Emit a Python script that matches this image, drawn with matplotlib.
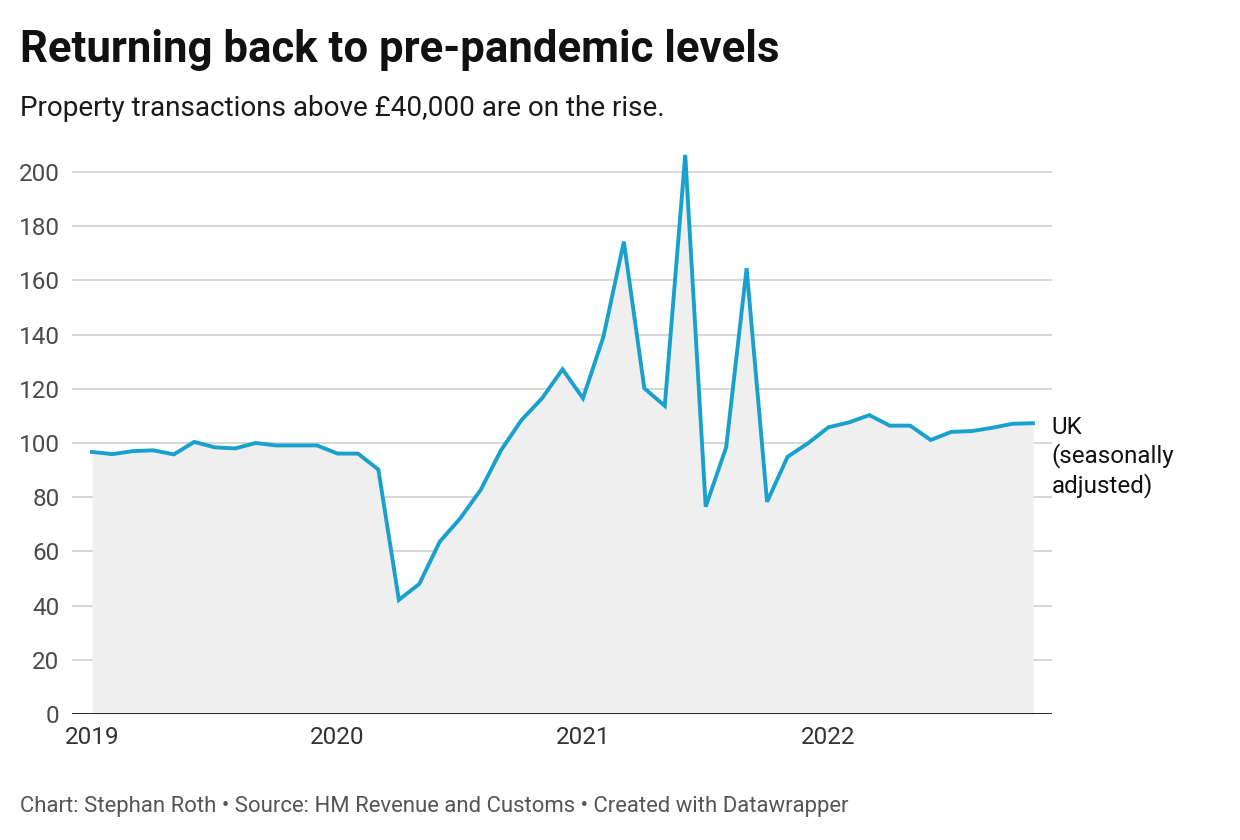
import matplotlib
matplotlib.use("Agg")
import matplotlib.pyplot as plt

plt.rcParams["font.family"] = ["Roboto", "DejaVu Sans"]

# Monthly index, Jan 2019 .. Nov 2022 (seasonally adjusted)
values = [
    96.7, 95.9, 97.0, 97.3, 95.8, 100.4, 98.4, 98.0, 100.0, 99.1, 99.1, 99.1,
    96.1, 96.1, 90.2, 42.1, 48.0, 63.6, 72.2, 82.7, 97.4, 108.5, 116.5, 127.2,
    116.5, 139.2, 174.3, 120.2, 113.7, 206.3, 76.5, 98.4, 164.5, 78.3, 94.9, 99.9,
    105.8, 107.6, 110.3, 106.4, 106.4, 101.1, 104.1, 104.4, 105.6, 107.1, 107.3,
]
months = list(range(len(values)))
year_ticks = [0, 12, 24, 36]
year_labels = ["2019", "2020", "2021", "2022"]
y_ticks = [0, 20, 40, 60, 80, 100, 120, 140, 160, 180, 200]

LINE = "#18a1cd"
FILL = "#efefef"
GRID = "#d4d4d4"
TICK = "#4a4a4a"

W, H = 1240, 840
fig = plt.figure(figsize=(W / 100, H / 100), dpi=100)

# axes box in pixels: x 72..1052, y 0 at 714, 2.71 px per unit
px_unit = 2.71
ymax = 212
left, right, bottom = 72, 1052, 714
top = bottom - ymax * px_unit
ax = fig.add_axes([left / W, (H - bottom) / H, (right - left) / W, (bottom - top) / H])

ax.fill_between(months, values, 0, color=FILL, linewidth=0, zorder=1)
ax.plot(months, values, color=LINE, linewidth=2.8, solid_joinstyle="miter", zorder=3)

ax.set_xlim(-(92 - 72) / 20.45, 46 + (1052 - 1033) / 20.45)
ax.set_ylim(0, ymax)

for yv in y_ticks[1:]:
    ax.axhline(yv, color=GRID, linewidth=1.3, zorder=0.5)
ax.axhline(0, color="#111111", linewidth=2.0, zorder=4)

for s in ax.spines.values():
    s.set_visible(False)

ax.set_yticks(y_ticks)
ax.set_yticklabels([str(v) for v in y_ticks])
ax.set_xticks(year_ticks)
ax.set_xticklabels(year_labels)
ax.tick_params(axis="y", length=0, pad=9, labelsize=17.5, labelcolor=TICK)
ax.tick_params(axis="x", length=0, pad=9, labelsize=17.5, labelcolor="#333333")

# end-of-line label
ax.annotate("UK\n(seasonally\nadjusted)", xy=(months[-1], values[-1]),
            xytext=(13.5, 5), textcoords="offset points",
            ha="left", va="top", fontsize=17.4, color="#111111",
            linespacing=1.22, annotation_clip=False)

fig.text(20 / W, 1 - 62 / H, "Returning back to pre-pandemic levels",
         fontsize=31.5, fontweight="bold", color="#111111", va="baseline")
fig.text(20 / W, 1 - 116 / H, "Property transactions above £40,000 are on the rise.",
         fontsize=20.1, color="#1a1a1a", va="baseline")
fig.text(20 / W, 1 - 812 / H,
         "Chart: Stephan Roth \u2022 Source: HM Revenue and Customs \u2022 Created with Datawrapper",
         fontsize=15.9, color="#555555", va="baseline")

fig.savefig("out.png", dpi=100)
